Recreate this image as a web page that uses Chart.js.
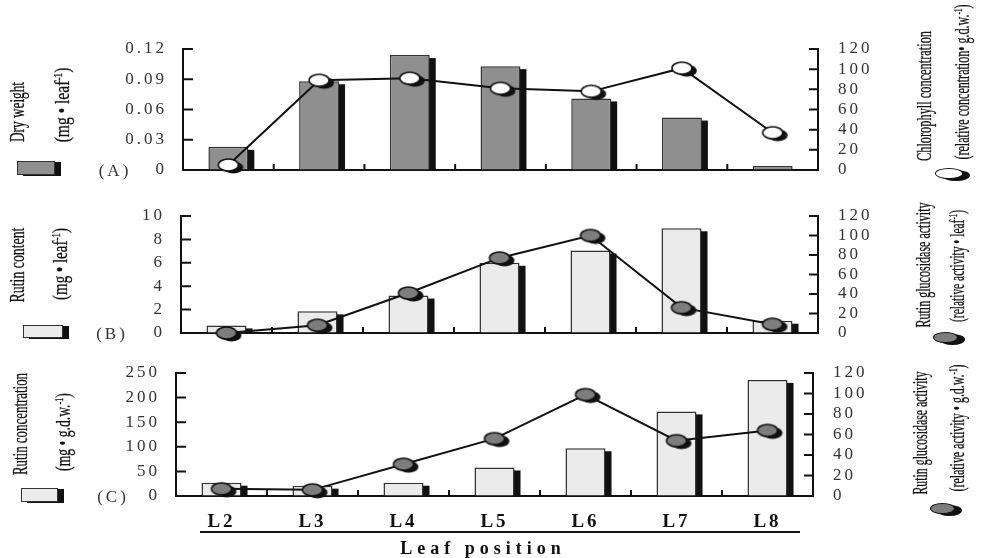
<!DOCTYPE html>
<html>
<head>
<meta charset="utf-8">
<script src="https://cdn.jsdelivr.net/npm/chart.js@4.4.1/dist/chart.umd.min.js"></script>
<style>
body { margin: 0; background: #fff; width: 981px; height: 558px; overflow: hidden; position: relative; font-family: "Liberation Serif", serif; color: #1a1a1a; }
canvas { position: absolute; left: 0; top: 0; }
.v { position: absolute; white-space: nowrap; line-height: 1; color: #111; -webkit-text-stroke: 0.3px #111; }
.v sup { font-size: 0.6em; vertical-align: 0.5em; line-height: 0; }
.t { position: absolute; white-space: nowrap; line-height: 1; transform: translate(-50%, -50%); }
.box { position: absolute; box-sizing: border-box; border: 1.5px solid #333; box-shadow: 6px 1px 0 #111; }
.dot { position: absolute; box-sizing: border-box; border: 1.5px solid #111; border-radius: 50%; box-shadow: 7px 2px 0 #111; }
</style>
</head>
<body>
<canvas id="chartA" width="981" height="558"></canvas>
<canvas id="chartB" width="981" height="558"></canvas>
<canvas id="chartC" width="981" height="558"></canvas>
<script>
// categories
const leafPositions = ["L2", "L3", "L4", "L5", "L6", "L7", "L8"];

// (A) dry weight (bars, mg/leaf) and chlorophyll (line, relative)
const dryWeight = [0.023, 0.088, 0.114, 0.103, 0.071, 0.052, 0.004];
const chlorophyll = [5, 89, 91, 81, 78, 101, 37];

// (B) rutin content (bars) and rutin glucosidase activity per leaf (line)
const rutinContent = [0.65, 1.85, 3.2, 6.0, 7.05, 8.95, 1.05];
const glucosidaseLeaf = [0, 8, 41, 77, 100, 26, 9];

// (C) rutin concentration (bars) and rutin glucosidase activity per g.d.w. (line)
const rutinConc = [27, 21, 27, 58, 97, 172, 236];
const glucosidaseDw = [7, 6, 31, 56, 99, 54, 64];

// left axis ranges for each panel, right axis is 0-120 everywhere
const leftMax = [0.12, 10, 250];
const leftStep = [0.03, 2, 50];
const rightMax = 120;
const rightStep = 20;

function markerImage(fill) {
    const c = document.createElement("canvas");
    c.width = 44; c.height = 26;
    const g = c.getContext("2d");
    g.fillStyle = "#111";
    g.beginPath(); g.ellipse(27, 15.5, 10, 6, 0, 0, Math.PI * 2); g.fill();
    g.fillStyle = fill;
    g.strokeStyle = "#111";
    g.lineWidth = 1.5;
    g.beginPath(); g.ellipse(22, 13, 10, 6, 0, 0, Math.PI * 2); g.fill(); g.stroke();
    return c;
}

const barShadow = {
    id: "barShadow",
    beforeDatasetDraw(chart, args) {
        if (args.meta.type !== "bar") return;
        const ctx = chart.ctx, a = chart.chartArea;
        ctx.save();
        ctx.beginPath(); ctx.rect(a.left, 0, chart.width - a.left, a.bottom); ctx.clip();
        ctx.fillStyle = "#111";
        args.meta.data.forEach(b => {
            const p = b.getProps(["x", "y", "base", "width"], true);
            ctx.fillRect(p.x + p.width / 2 - 1, p.y + 3, 7, p.base - p.y - 3);
        });
        ctx.restore();
    }
};

const innerTicks = {
    id: "innerTicks",
    beforeDraw(chart) {
        chart.ctx.letterSpacing = "3px";
    },
    afterDraw(chart) {
        const ctx = chart.ctx, a = chart.chartArea;
        const y = chart.scales.y, y1 = chart.scales.y1, x = chart.scales.x;
        ctx.save();
        ctx.strokeStyle = "#111";
        ctx.lineWidth = 2;
        ctx.beginPath();
        y.ticks.forEach(t => { const py = y.getPixelForValue(t.value); ctx.moveTo(a.left, py); ctx.lineTo(a.left + 10, py); });
        y1.ticks.forEach(t => { const py = y1.getPixelForValue(t.value); ctx.moveTo(a.right, py); ctx.lineTo(a.right - 9, py); });
        for (let i = 0; i < leafPositions.length - 1; i++) {
            const px = (x.getPixelForValue(i) + x.getPixelForValue(i + 1)) / 2;
            ctx.moveTo(px, a.bottom); ctx.lineTo(px, a.bottom - 6);
        }
        ctx.stroke();
        ctx.restore();
    }
};

const tickFont = { family: "Liberation Serif", size: 17 };

function makePanel(id, box, idx, bars, line, barColor, markerFill, showX) {
    const xh = showX ? 40 : 0;
    return new Chart(document.getElementById(id), {
        type: "bar",
        data: {
            labels: leafPositions,
            datasets: [{
                type: "line",
                data: line,
                yAxisID: "y1",
                borderColor: "#111",
                borderWidth: 2,
                pointStyle: markerImage(markerFill),
                pointRadius: 8,
                order: 0,
                clip: false
            }, {
                type: "bar",
                data: bars,
                yAxisID: "y",
                backgroundColor: barColor,
                borderColor: "#333",
                borderWidth: 1.5,
                categoryPercentage: 1,
                barPercentage: 0.44,
                order: 1
            }]
        },
        options: {
            responsive: false,
            animation: false,
            events: [],
            layout: { padding: { top: box.top, bottom: 558 - box.bottom - xh, left: 0, right: 0 } },
            plugins: { legend: { display: false }, tooltip: { enabled: false } },
            scales: {
                x: {
                    afterFit: s => { s.height = xh; },
                    grid: { drawOnChartArea: false, drawTicks: false },
                    border: { color: "#111", width: 2 },
                    ticks: { display: showX, padding: 15, color: "#111", font: { family: "Liberation Serif", size: 19, weight: "bold" } }
                },
                y: {
                    position: "left",
                    min: 0, max: leftMax[idx],
                    afterFit: s => { s.width = box.left; },
                    grid: { drawOnChartArea: false, drawTicks: false },
                    border: { color: "#111", width: 2 },
                    ticks: { stepSize: leftStep[idx], autoSkip: false, padding: 16, color: "#333", font: tickFont }
                },
                y1: {
                    position: "right",
                    min: 0, max: rightMax,
                    afterFit: s => { s.width = 981 - box.right; },
                    grid: { drawOnChartArea: false, drawTicks: false },
                    border: { color: "#111", width: 2 },
                    ticks: { stepSize: rightStep, autoSkip: false, padding: 20, color: "#333", font: tickFont }
                }
            }
        },
        plugins: [barShadow, innerTicks]
    });
}

makePanel("chartA", { top: 49, bottom: 170, left: 183, right: 818 }, 0, dryWeight, chlorophyll, "#8f8f8f", "#ffffff", false);
makePanel("chartB", { top: 216, bottom: 333, left: 181, right: 818 }, 1, rutinContent, glucosidaseLeaf, "#ebebeb", "#7d7d7d", false);
makePanel("chartC", { top: 373, bottom: 496, left: 176, right: 813 }, 2, rutinConc, glucosidaseDw, "#ebebeb", "#7d7d7d", true);

function vtext(html, cx, cy, len) {
    const d = document.createElement("div");
    d.className = "v";
    d.style.fontSize = "21px";
    d.innerHTML = html;
    document.body.appendChild(d);
    const w = d.offsetWidth;
    d.style.left = cx + "px";
    d.style.top = cy + "px";
    d.style.transform = "translate(-50%, -50%) rotate(-90deg) scaleX(" + (len / w) + ")";
}

function text(html, cx, cy, css) {
    const d = document.createElement("div");
    d.className = "t";
    d.innerHTML = html;
    d.style.left = cx + "px";
    d.style.top = cy + "px";
    Object.assign(d.style, css);
    document.body.appendChild(d);
}

function shape(cls, l, t, w, h, bg) {
    const d = document.createElement("div");
    d.className = cls;
    Object.assign(d.style, { left: l + "px", top: t + "px", width: w + "px", height: h + "px", background: bg });
    document.body.appendChild(d);
}

// left titles
vtext("Dry weight", 17, 112, 60);
vtext("(mg • leaf<sup>-1</sup>)", 62, 105, 75);
vtext("Rutin content", 17, 265, 75);
vtext("(mg • leaf<sup>-1</sup>)", 60, 264, 72);
vtext("Rutin concentration", 20, 424, 102);
vtext("(mg • g.d.w.<sup>-1</sup>)", 63, 432, 78);

// right titles
vtext("Chlorophyll concentration", 924, 96, 130);
vtext("(relative concentration• g.d.w.<sup>-1</sup>)", 962, 82, 155);
vtext("Rutin glucosidase activity", 923, 265, 125);
vtext("(relative activity • leaf<sup>-1</sup>)", 957, 266, 112);
vtext("Rutin glucosidase activity", 920, 433, 123);
vtext("(relative activity • g.d.w.<sup>-1</sup>)", 957, 428, 127);

// panel letters
const letterCss = { fontSize: "17px", letterSpacing: "3px", color: "#333" };
text("(A)", 115, 170, letterCss);
text("(B)", 112, 333, letterCss);
text("(C)", 113, 496, letterCss);

// legend keys
shape("box", 17, 161, 38, 14, "#8f8f8f");
shape("box", 23, 325, 40, 13, "#ebebeb");
shape("box", 21, 488, 37, 14, "#ebebeb");
shape("dot", 935, 168, 28, 11, "#ffffff");
shape("dot", 933, 332, 25, 11, "#7d7d7d");
shape("dot", 930, 503, 25, 11, "#7d7d7d");

// x axis caption
const rule = document.createElement("div");
Object.assign(rule.style, { position: "absolute", left: "200px", top: "531px", width: "600px", height: "2px", background: "#111" });
document.body.appendChild(rule);
text("Leaf position", 483, 548, { fontSize: "18px", fontWeight: "bold", letterSpacing: "5px", color: "#111" });
</script>
</body>
</html>
